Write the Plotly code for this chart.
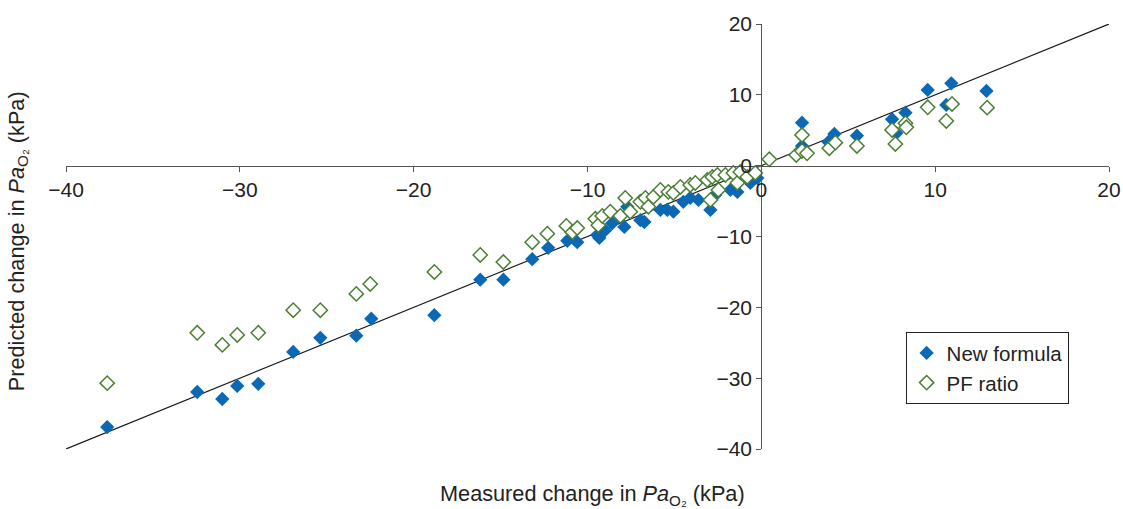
import plotly.graph_objects as go

# New formula (filled blue diamonds)
new_x = [-37.63, -32.45, -31.01, -30.15, -28.94, -26.93, -25.37, -23.3, -22.44, -18.81,
         -16.17, -14.84, -13.18, -12.26, -11.16, -10.59, -9.44, -9.32, -8.98, -8.57,
         -7.88, -7.71, -6.96, -6.73, -5.81, -5.41, -5.06, -4.49, -4.09, -3.62,
         -2.93, -2.65, -1.78, -1.38, -0.63, -0.23, 2.34, 2.34, 3.86, 4.2,
         5.5, 7.52, 7.77, 8.29, 9.57, 10.64, 10.93, 12.95]
new_y = [-36.9, -31.95, -32.94, -31.1, -30.8, -26.3, -24.3, -24.0, -21.6, -21.1,
         -16.1, -16.1, -13.2, -11.6, -10.6, -10.8, -9.8, -10.2, -9.1, -8.1,
         -8.65, -5.8, -7.7, -7.95, -6.25, -6.25, -6.5, -5.1, -4.56, -4.84,
         -6.25, -4.14, -3.43, -3.7, -2.43, -1.74, 6.07, 2.78, 3.35, 4.47,
         4.24, 6.55, 4.6, 7.48, 10.69, 8.57, 11.63, 10.55]

# PF ratio (open green diamonds)
pf_x = [-37.63, -32.45, -31.01, -30.15, -28.94, -26.93, -25.37, -23.3, -22.5, -18.81,
        -16.17, -14.84, -13.18, -12.31, -11.22, -10.87, -10.59, -9.55, -9.38, -9.15,
        -8.69, -8.11, -7.83, -7.54, -6.96, -6.67, -6.5, -6.21, -5.81, -5.35,
        -5.06, -4.66, -4.09, -3.8, -3.11, -2.93, -2.82, -2.53, -2.47, -2.07,
        -1.61, -1.38, -1.21, -0.81, -0.35, 0.46, 2.01, 2.34, 2.34, 2.63,
        3.91, 4.26, 5.5, 7.52, 7.71, 8.29, 8.34, 9.57, 10.64, 10.97, 12.99]
pf_y = [-30.7, -23.6, -25.3, -23.9, -23.6, -20.4, -20.4, -18.1, -16.7, -15.0,
        -12.6, -13.6, -10.8, -9.6, -8.5, -9.4, -8.8, -7.5, -8.4, -7.1,
        -6.5, -7.1, -4.56, -6.5, -5.1, -4.56, -5.8, -4.42, -3.43, -3.7,
        -3.85, -3.0, -2.72, -2.44, -2.02, -4.84, -1.6, -1.31, -3.43, -1.31,
        -1.03, -2.44, -0.89, -1.6, -1.03, 0.9, 1.51, 4.33, 2.08, 1.75,
        2.46, 3.25, 2.78, 5.04, 3.06, 5.99, 5.42, 8.24, 6.31, 8.71, 8.19]

# Line of identity
line_x = [-40, 20]
line_y = [-40, 20]

tick_vals = [-40, -30, -20, -10, 0, 10, 20]

FONT = "Liberation Sans, Arial, sans-serif"
FS = 21
TXT = "#222222"

fig = go.Figure()
fig.add_trace(go.Scatter(x=line_x, y=line_y, mode="lines",
                         line=dict(color="#1a1a1a", width=1.2), showlegend=False,
                         hoverinfo="skip"))
fig.add_trace(go.Scatter(x=new_x, y=new_y, mode="markers", name="New formula",
                         marker=dict(symbol="diamond", size=11, color="#0a68b4",
                                     line=dict(width=0))))
fig.add_trace(go.Scatter(x=pf_x, y=pf_y, mode="markers", name="PF ratio",
                         marker=dict(symbol="diamond", size=11, color="white",
                                     line=dict(width=1.5, color="#4b7f34"))))

axis_common = dict(range=[-40, 20], tickvals=tick_vals, showgrid=False, zeroline=False,
                   showline=True, linecolor="#555555", linewidth=1.2,
                   ticks="outside", ticklen=5, tickcolor="#555555",
                   anchor="free", position=2/3, domain=[0, 1], automargin=False,
                   tickfont=dict(size=FS, family=FONT, color=TXT))

fig.update_layout(
    width=1123, height=509,
    margin=dict(l=66, r=14, t=24, b=60, autoexpand=False),
    paper_bgcolor="white", plot_bgcolor="white",
    font=dict(family=FONT, size=FS, color=TXT),
    xaxis=dict(axis_common),
    yaxis=dict(axis_common),
    legend=dict(x=0.805, y=0.275, xanchor="left", yanchor="top",
                bordercolor="#222222", borderwidth=1, bgcolor="white",
                font=dict(size=FS - 0.5, family=FONT, color=TXT),
                itemwidth=30, tracegroupgap=2),
    showlegend=True,
)

TITLE_FS = 21.7
fig.add_annotation(xref="paper", yref="paper", x=0.505, y=-0.108, yanchor="middle",
                   text="Measured change in <i>Pa</i><sub>O₂</sub> (kPa)",
                   showarrow=False, font=dict(size=TITLE_FS, family=FONT, color=TXT))
fig.add_annotation(xref="paper", yref="paper", x=-0.046, y=0.489, xanchor="center",
                   yanchor="middle", textangle=-90,
                   text="Predicted change in <i>Pa</i><sub>O₂</sub> (kPa)",
                   showarrow=False, font=dict(size=TITLE_FS, family=FONT, color=TXT))

fig.write_html("out.html")
